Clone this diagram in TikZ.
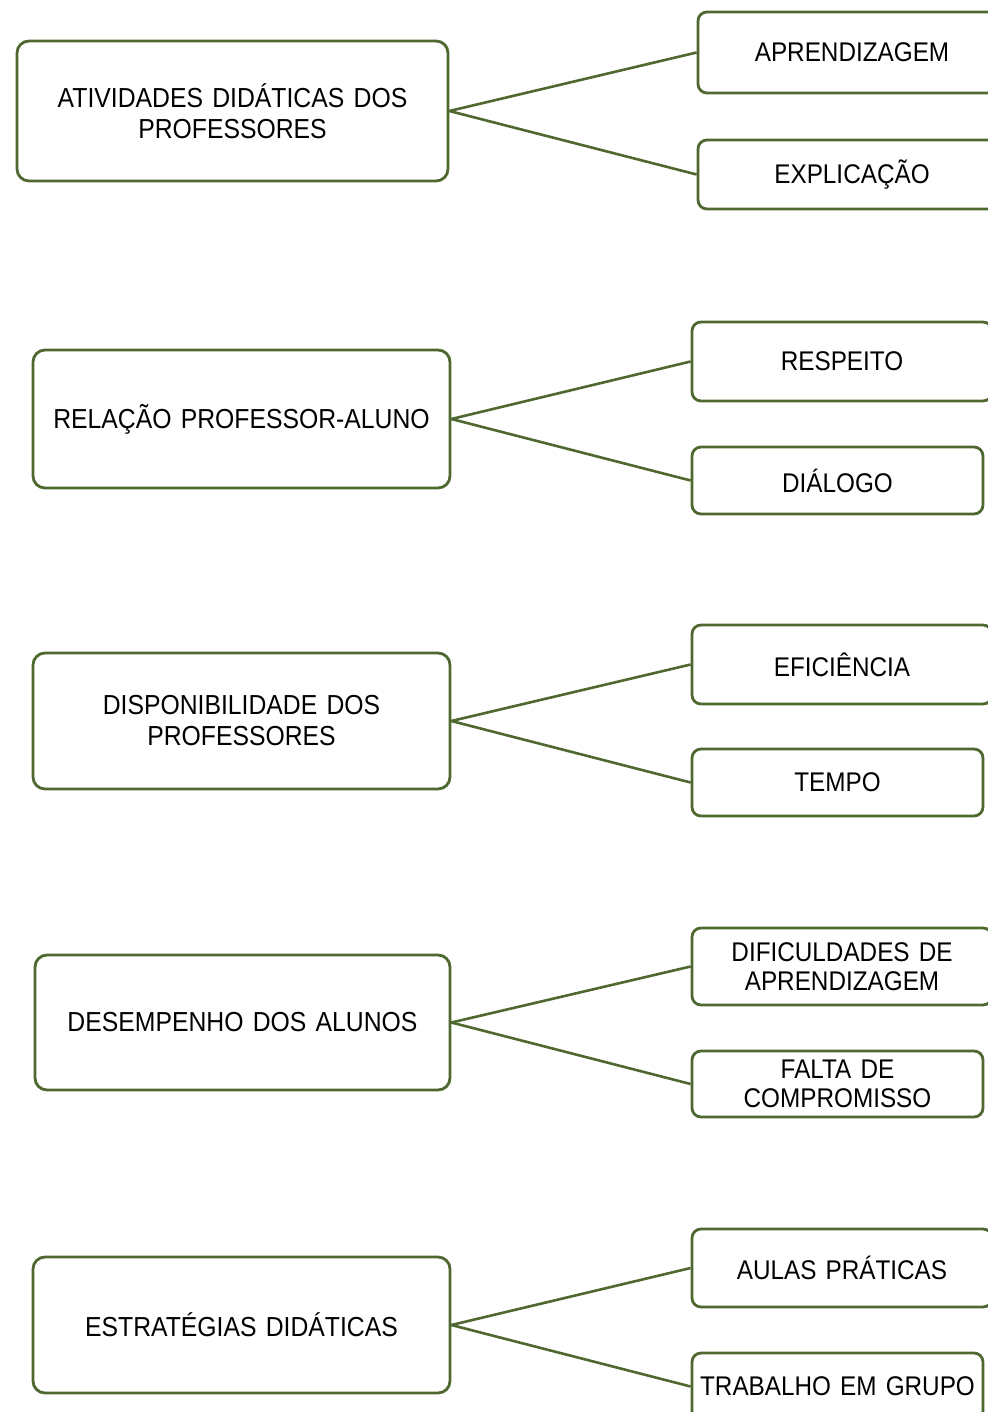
\documentclass[tikz,border=0pt]{standalone}
\usepackage{fontspec}
\setmainfont{Liberation Sans}[FakeStretch=0.9,WordSpace=1.35]
\definecolor{boxgreen}{RGB}{78,104,48}
\begin{document}
\begin{tikzpicture}[x=1pt,y=-1pt,
  bigbox/.style={draw=boxgreen,line width=2.8pt,rounded corners=12pt,fill=white,align=center,font=\fontsize{27.5}{31}\selectfont,inner sep=0pt},
  smallbox/.style={draw=boxgreen,line width=2.8pt,rounded corners=9pt,fill=white,align=center,font=\fontsize{27}{29}\selectfont,inner sep=0pt},
  link/.style={draw=boxgreen,line width=2.6pt}]
\useasboundingbox (0,0) rectangle (987,1412);
% group 1
\node[bigbox,minimum width=431pt,minimum height=140pt] (m1) at (232.5,111) {ATIVIDADES DIDÁTICAS DOS\\PROFESSORES};
\node[smallbox,minimum width=308pt,minimum height=81pt] (a1) at (852,52.5) {APRENDIZAGEM};
\node[smallbox,minimum width=308pt,minimum height=69pt] (b1) at (852,174.5) {EXPLICAÇÃO};
% group 2
\node[bigbox,minimum width=417pt,minimum height=138pt] (m2) at (241.5,419) {RELAÇÃO PROFESSOR-ALUNO};
\node[smallbox,minimum width=300pt,minimum height=79pt] (a2) at (842,361.5) {RESPEITO};
\node[smallbox,minimum width=291pt,minimum height=67pt] (b2) at (837.5,480.5) {DIÁLOGO};
% group 3
\node[bigbox,minimum width=417pt,minimum height=136pt] (m3) at (241.5,721) {DISPONIBILIDADE DOS\\PROFESSORES};
\node[smallbox,minimum width=300pt,minimum height=79pt] (a3) at (842,664.5) {EFICIÊNCIA};
\node[smallbox,minimum width=291pt,minimum height=67pt] (b3) at (837.5,782.5) {TEMPO};
% group 4
\node[bigbox,minimum width=415pt,minimum height=135pt] (m4) at (242.5,1022.5) {DESEMPENHO DOS ALUNOS};
\node[smallbox,minimum width=300pt,minimum height=77pt] (a4) at (842,966.5) {DIFICULDADES DE\\APRENDIZAGEM};
\node[smallbox,minimum width=291pt,minimum height=66pt] (b4) at (837.5,1084) {FALTA DE\\COMPROMISSO};
% group 5
\node[bigbox,minimum width=417pt,minimum height=136pt] (m5) at (241.5,1325) {ESTRATÉGIAS DIDÁTICAS};
\node[smallbox,minimum width=300pt,minimum height=78pt] (a5) at (842,1268) {AULAS PRÁTICAS};
\node[smallbox,minimum width=291pt,minimum height=67pt] (b5) at (837.5,1386.5) {TRABALHO EM GRUPO};
% connectors
\foreach \i in {1,...,5}{
  \draw[link] (m\i.east) -- (a\i.west);
  \draw[link] (m\i.east) -- (b\i.west);
}
\end{tikzpicture}
\end{document}
